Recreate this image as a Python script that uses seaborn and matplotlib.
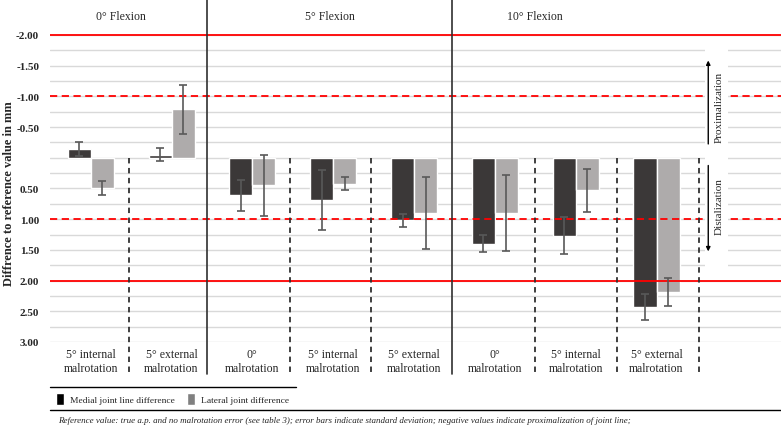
import numpy as np
import pandas as pd
import seaborn as sns
import matplotlib.pyplot as plt
from matplotlib.lines import Line2D
from matplotlib.patches import Patch

# categories (one slot each, left to right)
cat_keys = ["f0_int", "f0_ext", "f5_0", "f5_int", "f5_ext", "f10_0", "f10_int", "f10_ext"]
cat_labels = ["5° internal\nmalrotation", "5° external\nmalrotation", "0°\nmalrotation",
              "5° internal\nmalrotation", "5° external\nmalrotation", "0°\nmalrotation",
              "5° internal\nmalrotation", "5° external\nmalrotation"]
groups = ["0° Flexion", "5° Flexion", "10° Flexion"]

# values in mm (negative = proximalization)
medial_mean = [-0.14, -0.05, 0.61, 0.69, 1.02, 1.40, 1.27, 2.43]
medial_sd = [0.11, 0.11, 0.25, 0.49, 0.11, 0.14, 0.30, 0.21]
lateral_mean = [0.49, -0.79, 0.45, 0.42, 0.90, 0.90, 0.53, 2.19]
lateral_sd = [0.11, 0.40, 0.50, 0.10, 0.59, 0.62, 0.35, 0.23]

series = ["Medial joint line difference", "Lateral joint difference"]
yticks = [-2.0, -1.5, -1.0, -0.5, 0.5, 1.0, 1.5, 2.0, 2.5, 3.0]

df = pd.DataFrame({
    "cat": cat_keys * 2,
    "side": [series[0]] * 8 + [series[1]] * 8,
    "value": medial_mean + lateral_mean,
    "sd": medial_sd + lateral_sd,
})

sns.set_style("white")
plt.rcParams["font.family"] = ["Liberation Serif", "DejaVu Serif"]

fig = plt.figure(figsize=(7.81, 4.27), dpi=100)
ax = fig.add_axes([50.3 / 781, 1 - 343 / 427, 1 - 50.3 / 781, 343 / 427])

# gridlines every 0.25
for g in np.arange(-2.0, 3.01, 0.25):
    ax.axhline(g, color="#d9d9d9", lw=1.0, zorder=0)

sns.barplot(data=df, x="cat", y="value", hue="side", order=cat_keys,
            palette=["#3b3838", "#aeabab"], width=0.57, gap=0,
            errorbar=None, saturation=1, ax=ax, zorder=2)

# error bars at the bar centres
for cont, sds in zip(ax.containers, [medial_sd, lateral_sd]):
    for bar, sd in zip(cont, sds):
        xc = bar.get_x() + bar.get_width() / 2
        yv = bar.get_y() + bar.get_height()
        ax.errorbar(xc, yv, yerr=sd, color="#595959", lw=1.2, capsize=3,
                    capthick=1.2, zorder=4)

ax.set_xlim(-0.5, 8.54)
ax.set_ylim(3.0, -2.586)

# dashed limits, then white gap behind the arrows, then solid limits
for v in [-1, 1]:
    ax.axhline(v, color="#ff0000", lw=1.3, ls=(0, (4, 2.5)), zorder=3)
ax.fill_betweenx([-1.85, 1.85], 7.60, 7.88, color="white", lw=0, zorder=3.5)
for v in [-2, 2]:
    ax.axhline(v, color="#ff0000", lw=1.3, zorder=3.6)

# group separators
for xs in [1.44, 4.47]:
    ax.axvline(xs, ymin=-32 / 343, ymax=1, color="#303030", lw=1.2,
               clip_on=False, zorder=5)
for xs in [0.47, 2.46, 3.47, 5.5, 6.51, 7.52]:
    ax.plot([xs, xs], [0, 3.52], color="#303030", lw=1.3,
            ls=(0, (3, 2.5)), clip_on=False, zorder=5)

# group titles
for gx, gt in zip([0.37, 2.96, 5.5], groups):
    ax.text(gx, -2.31, gt, ha="center", va="center", fontsize=8.5)

# category labels
for i, lab in enumerate(cat_labels):
    ax.text(i, 3.31, lab, ha="center", va="center", fontsize=8.5,
            linespacing=1.15, clip_on=False)

# direction arrows
ax.annotate("", xy=(7.64, -1.63), xytext=(7.64, -0.18),
            arrowprops=dict(arrowstyle="-|>", color="black", lw=1.0,
                            mutation_scale=6), zorder=6)
ax.annotate("", xy=(7.64, 1.57), xytext=(7.64, 0.08),
            arrowprops=dict(arrowstyle="-|>", color="black", lw=1.0,
                            mutation_scale=6), zorder=6)
ax.text(7.78, -0.83, "Proximalization", rotation=90, ha="center",
        va="center", fontsize=8, zorder=6)
ax.text(7.78, 0.78, "Distalization", rotation=90, ha="center",
        va="center", fontsize=8, zorder=6)

ax.set_yticks(yticks)
ax.set_yticklabels([f"{t:.2f}" for t in yticks], fontweight="bold", fontsize=8)
ax.tick_params(axis="y", length=0, pad=8)
ax.set_xticks([])
ax.set_xlabel("")
ax.set_ylabel("Diffrence to reference value in mm", fontweight="bold",
              fontsize=9)
ax.yaxis.set_label_coords(-35 / 731, 1 - 194 / 343)
sns.despine(ax=ax, left=True, bottom=True)
ax.get_legend().remove()

# legend block below the chart
fig.add_artist(Line2D([50 / 781, 296 / 781], [1 - 388 / 427] * 2,
                      color="black", lw=1.0))
fig.add_artist(Line2D([50 / 781, 1.0], [1 - 411 / 427] * 2,
                      color="black", lw=1.0))
handles = [Patch(facecolor="#000000"), Patch(facecolor="#808080")]
fig.legend(handles, series, loc="center left", ncol=2, frameon=False,
           bbox_to_anchor=(56 / 781, 1 - 400 / 427), fontsize=6.8,
           handlelength=0.85, handleheight=1.5, handletextpad=0.6,
           columnspacing=1.3, borderpad=0, borderaxespad=0)

fig.text(58 / 781, 1 - 421 / 427,
         "Reference value: true a.p. and no malrotation error (see table 3); "
         "error bars indicate standard deviation; negative values indicate "
         "proximalization of joint line;",
         fontsize=6.5, style="italic", va="center", ha="left")

fig.savefig("out.png", dpi=100)
